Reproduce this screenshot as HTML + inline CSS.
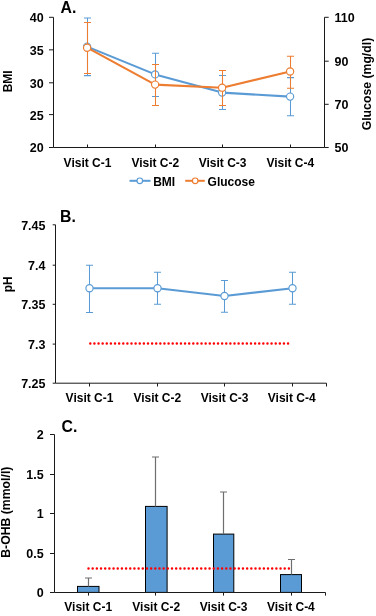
<!DOCTYPE html>
<html><head><meta charset="utf-8">
<style>
html,body{margin:0;padding:0;background:#fff;}
svg{display:block;will-change:transform;}
.wrap{width:376px;height:616px;}
text{font-family:"Liberation Sans",sans-serif;font-weight:bold;font-size:12px;fill:#000;}
.ax{stroke:#1a1a1a;stroke-width:1;fill:none;}
.bl{stroke:#5B9BD5;fill:none;}
.mk circle{fill:#fff;}
.or{stroke:#ED7D31;fill:none;}
.lbl{font-size:15.8px;}
.num text{font-size:12.5px;}
</style></head><body>
<div class="wrap"><svg width="376" height="616" viewBox="0 0 376 616">
<!-- ================= PANEL A ================= -->
<text class="lbl" x="60.5" y="13.2">A.</text>
<!-- axes -->
<path class="ax" d="M53.5 17.3V147.5H324.5V17.3 M49 17.3H53.5 M49 49.85H53.5 M49 82.8H53.5 M49 114.6H53.5 M49 147.5H53.5 M324.5 17.3H328.7 M324.5 61.2H328.7 M324.5 104.3H328.7 M324.5 147.5H328.7 M87.5 144.5V147.5 M155.5 144.5V147.5 M222.5 144.5V147.5 M290.5 144.5V147.5"/>
<g class="num" text-anchor="end">
<text x="43.7" y="22.2">40</text>
<text x="43.7" y="54.7">35</text>
<text x="43.7" y="87.6">30</text>
<text x="43.7" y="119.7">25</text>
<text x="43.7" y="152.3">20</text>
</g>
<g class="num" text-anchor="start">
<text x="334.6" y="22.2">110</text>
<text x="334.6" y="65.6">90</text>
<text x="334.6" y="108.9">70</text>
<text x="334.6" y="152.3">50</text>
</g>
<g text-anchor="middle">
<text x="87.5" y="166.7">Visit C-1</text>
<text x="155.3" y="166.7">Visit C-2</text>
<text x="222.6" y="166.7">Visit C-3</text>
<text x="290.3" y="166.7">Visit C-4</text>
<text transform="translate(12.1 81.3) rotate(-90)">BMI</text>
<text transform="translate(370.6 84.05) rotate(-90)" style="font-size:12.25px">Glucose (mg/dl)</text>
</g>
<!-- BMI series -->
<path class="bl" stroke-width="2.1" stroke-linejoin="round" d="M87.1 46.6L155.1 74.4L222.1 92.6L290.1 96.6"/>
<path class="bl" stroke-width="1.05" d="M87.5 18V75.6 M84 18H91 M84 75.6H91 M155.5 53.3V96.4 M152 53.3H159 M152 96.4H159 M222.5 75.5V109.5 M219 75.5H226 M219 109.5H226 M290.5 77.6V115.7 M287 77.6H294 M287 115.7H294"/>
<g class="bl mk" stroke-width="1.15">
<circle cx="87.1" cy="46.6" r="3.6"/><circle cx="155.1" cy="74.4" r="3.6"/><circle cx="222.1" cy="92.6" r="3.6"/><circle cx="290.1" cy="96.6" r="3.6"/>
</g>
<!-- Glucose series -->
<path class="or" stroke-width="2.1" stroke-linejoin="round" d="M87.1 47.7L155.1 84.6L222.1 87.7L290.1 71.5"/>
<path class="or" stroke-width="1.05" d="M87.5 22.4V73.4 M84 22.4H91 M84 73.4H91 M155.5 64.4V105.4 M152 64.4H159 M152 105.4H159 M222.5 70.5V105.4 M219 70.5H226 M219 105.4H226 M290.5 56.3V88.2 M287 56.3H294 M287 88.2H294"/>
<g class="or mk" stroke-width="1.15">
<circle cx="87.1" cy="47.7" r="3.6"/><circle cx="155.1" cy="84.6" r="3.6"/><circle cx="222.1" cy="87.7" r="3.6"/><circle cx="290.1" cy="71.5" r="3.6"/>
</g>
<!-- legend -->
<path class="bl" stroke-width="2" d="M129.5 180.8H150.5"/>
<circle class="bl" stroke-width="1.2" style="fill:#fff" cx="139.8" cy="180.8" r="2.8"/>
<text x="153.2" y="186">BMI</text>
<path class="or" stroke-width="2" d="M185.2 180.8H204.8"/>
<circle class="or" stroke-width="1.2" style="fill:#fff" cx="195.2" cy="180.8" r="2.8"/>
<text x="207.6" y="186">Glucose</text>

<!-- ================= PANEL B ================= -->
<text class="lbl" x="60" y="221.6">B.</text>
<path class="ax" d="M55.5 224.8V383.2H326.5V386.5 M52.7 224.8H55.5 M52.7 265.2H55.5 M52.7 304.3H55.5 M52.7 344.1H55.5 M52.7 383.2H55.5 M89.5 383.2V386.5 M157.5 383.2V386.5 M224.5 383.2V386.5 M292.5 383.2V386.5"/>
<g class="num" text-anchor="end">
<text x="45.5" y="229.6">7.45</text>
<text x="45.5" y="269.8">7.4</text>
<text x="45.5" y="309.1">7.35</text>
<text x="45.5" y="348.9">7.3</text>
<text x="45.5" y="388.0">7.25</text>
</g>
<g text-anchor="middle">
<text x="89.5" y="402.3">Visit C-1</text>
<text x="157.3" y="402.3">Visit C-2</text>
<text x="224.6" y="402.3">Visit C-3</text>
<text x="291.7" y="402.3">Visit C-4</text>
<text transform="translate(11.9 284.35) rotate(-90)">pH</text>
</g>
<path d="M90.3 343.6H289" stroke="#FF0000" stroke-width="2.5" stroke-dasharray="0 4.12" stroke-linecap="round" fill="none"/>
<path class="bl" stroke-width="2.1" stroke-linejoin="round" d="M89.5 288.2L157.5 288.2L224.5 296L292.5 288.2"/>
<path class="bl" stroke-width="1.05" d="M89.5 265.2V312.4 M86 265.2H93 M86 312.4H93 M157.5 272.3V304.3 M154 272.3H161 M154 304.3H161 M224.5 280.4V312.2 M221 280.4H228 M221 312.2H228 M292.5 272.3V304.2 M289 272.3H296 M289 304.2H296"/>
<g class="bl mk" stroke-width="1.15">
<circle cx="89.5" cy="288.2" r="3.6"/><circle cx="157.5" cy="288.2" r="3.6"/><circle cx="224.5" cy="296" r="3.6"/><circle cx="292.5" cy="288.2" r="3.6"/>
</g>

<!-- ================= PANEL C ================= -->
<text class="lbl" x="61.6" y="431.5">C.</text>
<!-- bars -->
<g fill="#5B9BD5" stroke="#000" stroke-width="1">
<rect x="77.5" y="586.4" width="21.5" height="6"/>
<rect x="145.5" y="506.4" width="21.6" height="86"/>
<rect x="213.5" y="534.1" width="20.3" height="58.3"/>
<rect x="280.5" y="574.6" width="21" height="17.8"/>
</g>
<path stroke="#6e6e6e" stroke-width="1.2" fill="none" d="M88.5 586.4V578 M85 578H92 M155.5 506.4V457 M152 457H159 M223.5 534.1V492 M220 492H227 M291.5 574.6V559.5 M288 559.5H295"/>
<path class="ax" d="M54.5 434.5V592.5H325.5V595.6 M50 434.5H54.5 M50 474.5H54.5 M50 513.5H54.5 M50 553.5H54.5 M50 592.5H54.5 M88.5 592.5V595.6 M155.5 592.5V595.6 M223.5 592.5V595.6 M291.5 592.5V595.6"/>
<path d="M88.5 568.45H289.5" stroke="#FF0000" stroke-width="2.5" stroke-dasharray="0 4.175" stroke-linecap="round" fill="none"/>
<g class="num" text-anchor="end">
<text x="43.7" y="439.2">2</text>
<text x="43.7" y="478.7">1.5</text>
<text x="43.7" y="518.2">1</text>
<text x="43.7" y="557.8">0.5</text>
<text x="43.7" y="597.2">0</text>
</g>
<g text-anchor="middle">
<text x="88.2" y="611">Visit C-1</text>
<text x="156.2" y="611">Visit C-2</text>
<text x="223.6" y="611">Visit C-3</text>
<text x="290.9" y="611">Visit C-4</text>
<text transform="translate(10.2 512.2) rotate(-90)" style="font-size:12.25px">B-OHB (mmol/l)</text>
</g>
</svg></div>
</body></html>
